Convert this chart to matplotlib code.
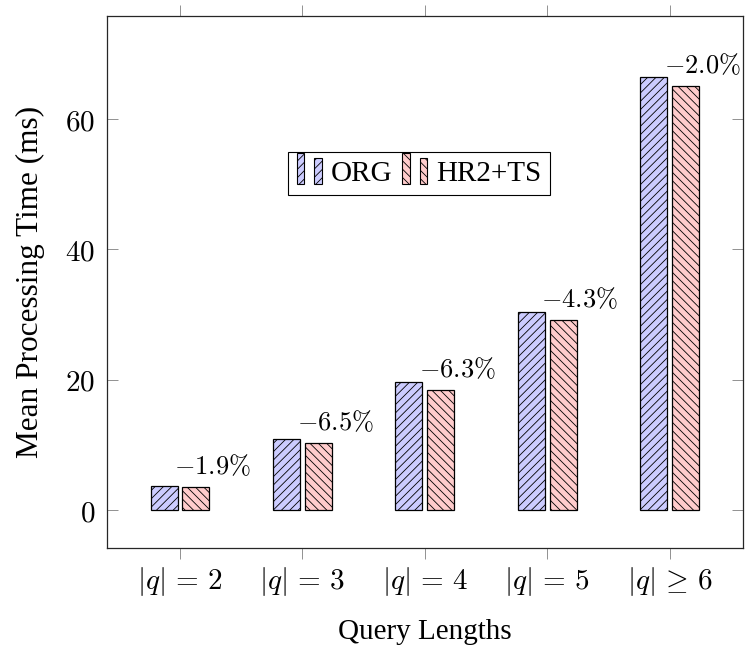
import numpy as np
import matplotlib
matplotlib.use("Agg")
import matplotlib.pyplot as plt
from matplotlib.patches import Patch, Rectangle
from matplotlib.legend_handler import HandlerBase

# data
categories = [r"$|q|\,=\,2$", r"$|q|\,=\,3$", r"$|q|\,=\,4$", r"$|q|\,=\,5$", r"$|q|\,\geq\,6$"]
org_times = [3.65, 10.97, 19.6, 30.4, 66.4]
hr2ts_times = [3.58, 10.26, 18.37, 29.1, 65.1]
change_labels = [r"$-1.9\%$", r"$-6.5\%$", r"$-6.3\%$", r"$-4.3\%$", r"$-2.0\%$"]
y_ticks = [0, 20, 40, 60]

plt.rcParams["mathtext.fontset"] = "cm"
plt.rcParams["hatch.linewidth"] = 0.6
FS = 21
SERIF = ["Liberation Serif", "DejaVu Serif"]


class TwoBarHandler(HandlerBase):
    """pgfplots-style ybar legend image: two small bars of unequal height."""

    def create_artists(self, legend, orig_handle, xdescent, ydescent,
                       width, height, fontsize, trans):
        bw = width * 0.3
        base = -ydescent - 0.15 * height
        bars = []
        for x0, h in [(0.0, 1.5), (0.7, 1.25)]:
            r = Rectangle((-xdescent + x0 * width, base), bw, h * height,
                          facecolor=orig_handle.get_facecolor(),
                          edgecolor="black", linewidth=0.8,
                          hatch=orig_handle.get_hatch(), transform=trans)
            bars.append(r)
        return bars


fig = plt.figure(figsize=(7.45, 6.59), dpi=100)
ax = fig.add_axes([0.1431, 0.1684, 0.9973 - 0.1431, 0.9757 - 0.1684])

x = np.arange(len(categories))
bar_w = 0.22
off = 0.13
org_color = "#ccccff"
hr2_color = "#ffcccc"

ax.bar(x - off, org_times, bar_w, color=org_color, edgecolor="black",
       linewidth=0.9, hatch="////", zorder=2)
ax.bar(x + off, hr2ts_times, bar_w, color=hr2_color, edgecolor="black",
       linewidth=0.9, hatch="\\\\\\\\", zorder=2)

for xi, v, lab in zip(x, hr2ts_times, change_labels):
    ax.annotate(lab, xy=(xi + off, v), xytext=(12, 14.5), textcoords="offset points",
                ha="center", va="center", fontsize=FS - 2)

ax.set_xlim(-0.6, len(categories) - 0.4)
ax.set_ylim(-5.8, 75.8)
ax.set_xticks(x)
ax.set_xticklabels(categories, fontsize=FS)
ax.set_yticks(y_ticks)
ax.set_yticklabels([rf"${t}$" for t in y_ticks], fontsize=FS)

ax.tick_params(axis="x", direction="out", top=True, bottom=True, length=8,
               width=0.6, color="0.5", pad=4)
ax.tick_params(axis="y", direction="in", left=True, right=True, length=8,
               width=0.6, color="0.5", pad=8)
for s in ax.spines.values():
    s.set_linewidth(0.9)
    s.set_color("0.15")

ax.set_ylabel("Mean Processing Time (ms)", fontsize=22.5, family=SERIF, va="center")
ax.yaxis.set_label_coords(-0.120, 0.5)
ax.set_xlabel("Query Lengths", fontsize=FS, family=SERIF, va="center")
ax.xaxis.set_label_coords(0.5, -0.158)

handles = [Patch(facecolor=org_color, hatch="////"),
           Patch(facecolor=hr2_color, hatch="\\\\\\\\")]
leg = ax.legend(handles, ["ORG", "HR2+TS"], ncol=2, loc="center",
                bbox_to_anchor=(0.491, 0.704), prop={"family": SERIF, "size": FS},
                handler_map={Patch: TwoBarHandler()}, handlelength=0.85,
                handleheight=0.7, handletextpad=0.3, columnspacing=0.35,
                borderpad=0.3, fancybox=False, framealpha=1, edgecolor="black")
leg.get_frame().set_linewidth(0.8)

fig.savefig("out.png", dpi=100)
